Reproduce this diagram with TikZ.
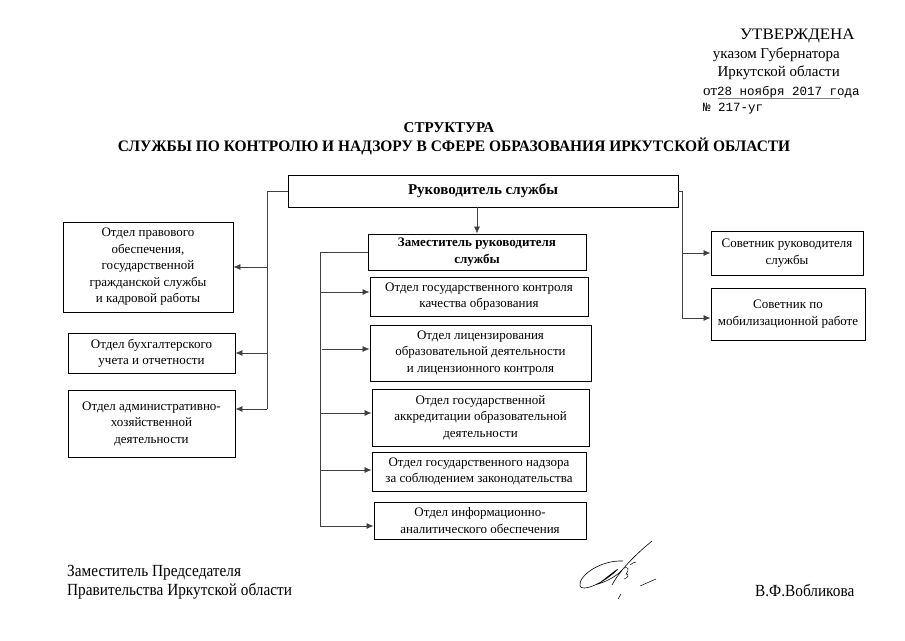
\documentclass[tikz,border=0pt]{standalone}
\usepackage{fontspec}
\setmainfont{Liberation Serif}
\newfontfamily\monof{Liberation Mono}
\usetikzlibrary{arrows.meta,calc}
\tikzset{
  box/.style={draw=black, line width=0.9pt, align=center, inner sep=2pt, font=\fontsize{13}{16.5}\selectfont},
  bbox/.style={box, font=\fontsize{13}{16.5}\selectfont\bfseries},
  conn/.style={draw=black!75, line width=0.75pt},
  arr/.style={conn, -{Latex[length=7pt,width=6pt]}},
  plain/.style={inner sep=0pt, anchor=east, font=\fontsize{15}{17}\selectfont},
  foot/.style={inner sep=0pt, anchor=west, font=\fontsize{17}{19}\selectfont},
}
\begin{document}
\begin{tikzpicture}[x=1pt,y=-1pt]
\useasboundingbox (0,0) rectangle (905,640);
% header
\node[plain, anchor=west, font=\fontsize{16}{18}\selectfont] (h1) at (740,36) {\scalebox{1.06}[1]{УТВЕРЖДЕНА}};
\node[plain] (h2) at (840,55) {указом Губернатора};
\node[plain] (h3) at (840,73) {Иркутской области};
\node[plain, anchor=west] (h4) at (703,92) {от{\fontsize{12.5}{15}\monof 28 ноября 2017 года}};
\node[plain, anchor=west] (h5) at (703,109) {\fontsize{12.5}{15}\monof № 217-уг};
\draw[black!50, line width=0.5pt] (718,98) -- (840,98);
% title
\node[inner sep=0pt, font=\fontsize{15}{17}\selectfont\bfseries] (t1) at (449,128) {СТРУКТУРА};
\node[inner sep=0pt, font=\fontsize{16}{18}\selectfont\bfseries] (t2) at (454,146) {\scalebox{0.965}[1]{СЛУЖБЫ ПО КОНТРОЛЮ И НАДЗОРУ В СФЕРЕ ОБРАЗОВАНИЯ ИРКУТСКОЙ ОБЛАСТИ}};
% boxes
\node[bbox, font=\fontsize{15}{17}\selectfont\bfseries, minimum width=390pt, minimum height=32pt] (ruk) at (483,191) {Руководитель службы};
\node[box, minimum width=170pt, minimum height=90pt] (l1) at (148,267) {Отдел правового\\обеспечения,\\государственной\\гражданской службы\\и кадровой работы};
\node[box, minimum width=167pt, minimum height=40pt] (l2) at (151.5,353) {Отдел бухгалтерского\\учета и отчетности};
\node[box, minimum width=167pt, minimum height=67pt] (l3) at (151.5,423.5) {Отдел административно-\\хозяйственной\\деятельности};
\node[bbox, minimum width=218pt, minimum height=36pt] (zam) at (477,252) {Заместитель руководителя\\службы};
\node[box, minimum width=218pt, minimum height=39pt] (c1) at (479,296.5) {Отдел государственного контроля\\качества образования};
\node[box, minimum width=221pt, minimum height=56pt] (c2) at (480.5,353) {Отдел лицензирования\\образовательной деятельности\\и лицензионного контроля};
\node[box, minimum width=217pt, minimum height=57pt] (c3) at (480.5,417.5) {Отдел государственной\\аккредитации образовательной\\деятельности};
\node[box, minimum width=214pt, minimum height=39pt] (c4) at (479,471.5) {Отдел государственного надзора\\за соблюдением законодательства};
\node[box, minimum width=212pt, minimum height=37pt] (c5) at (480,520.5) {Отдел информационно-\\аналитического обеспечения};
\node[box, minimum width=152pt, minimum height=44pt] (r1) at (787,253) {Советник руководителя\\службы};
\node[box, minimum width=154pt, minimum height=52pt] (r2) at (788,314) {Советник по\\мобилизационной работе};
% left connectors
\coordinate (lt) at (267,191);
\coordinate (lb) at (267,409);
\draw[conn] (ruk.west) -- (lt) -- (lb);
\draw[arr] (lt |- l1.east) -- (l1.east);
\draw[arr] (lt |- l2.east) -- (l2.east);
\draw[arr] (lb) -- (lb -| l3.east);
% center connectors
\draw[arr] (ruk.south -| zam.north) -- (zam.north);
\coordinate (ct) at (320,252);
\coordinate (cb) at (320,526);
\coordinate (a1) at (320,292);
\coordinate (a2) at (322,349);
\coordinate (a3) at (320,413);
\coordinate (a4) at (320,470);
\draw[conn] (zam.west) -- (ct) -- (cb);
\draw[arr] (a1) -- (a1 -| c1.west);
\draw[arr] (a2) -- (a2 -| c2.west);
\draw[arr] (a3) -- (a3 -| c3.west);
\draw[arr] (a4) -- (a4 -| c4.west);
\draw[arr] (cb) -- (cb -| c5.west);
% right connectors
\coordinate (rt) at (682,191);
\coordinate (rb) at (682,318);
\draw[conn] (ruk.east) -- (rt) -- (rb);
\draw[arr] (rt |- r1.west) -- (r1.west);
\draw[arr] (rb) -- (rb -| r2.west);
% footer
\node[foot] (f1) at (67,573) {\scalebox{0.9}[1]{Заместитель Председателя}};
\node[foot] (f2) at (67,591) {\scalebox{0.9}[1]{Правительства Иркутской области}};
\node[foot] (f3) at (755,591) {\scalebox{0.9}[1]{В.Ф.Вобликова}};
% signature
\draw[line width=0.6pt] (652,541) .. controls (635,555) and (620,570) .. (612,585);
\draw[line width=0.6pt] (623,561) .. controls (600,560) and (578,576) .. (580,586) .. controls (582,592) and (602,584) .. (616,571) .. controls (622,565) and (604,580) .. (598,584) .. controls (608,581) and (618,575) .. (622,570);
\draw[line width=0.5pt] (624,568) .. controls (628,566) and (630,570) .. (626,574) .. controls (630,574) and (628,578) .. (624,579);
\draw[line width=0.5pt] (630,565) .. controls (633,563) and (634,562) .. (636,562);
\draw[line width=0.5pt] (640,586) -- (656,579);
\draw[line width=0.5pt] (618,599) -- (621,594);
\end{tikzpicture}
\end{document}
